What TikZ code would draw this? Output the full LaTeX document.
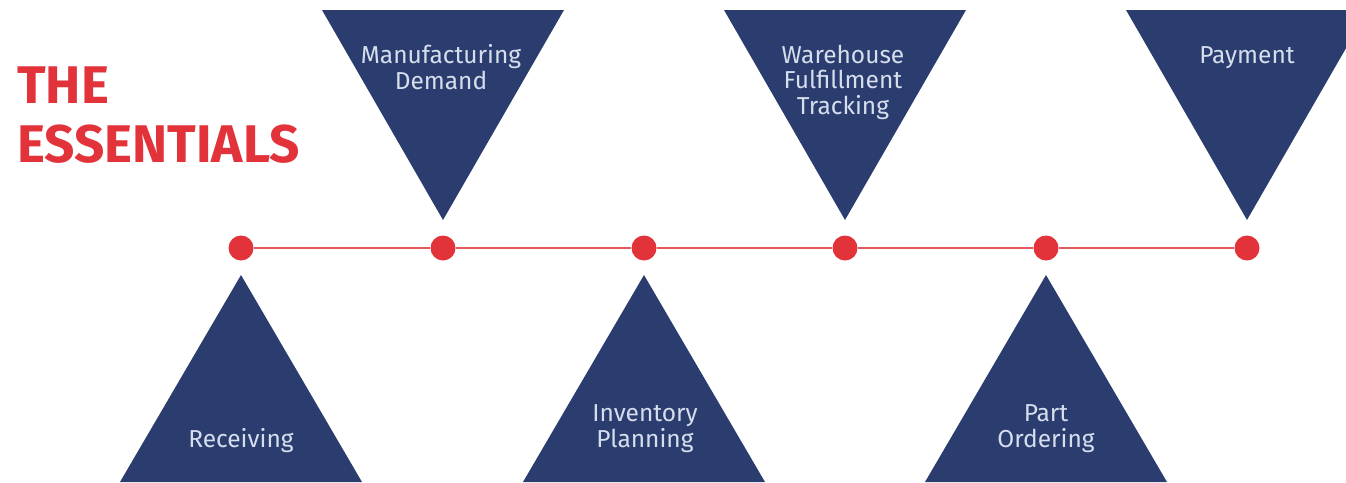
\documentclass[tikz,border=0pt]{standalone}
\usepackage{fontspec}
\setmainfont{Fira Sans}
\usetikzlibrary{positioning}

\definecolor{navy}{RGB}{43,61,110}
\definecolor{essred}{RGB}{226,50,58}
\definecolor{linered}{RGB}{228,88,96}
\definecolor{labelfg}{RGB}{214,222,238}

\tikzset{
  dot/.style={circle,fill=essred,inner sep=0,minimum size=25},
  tri/.style={fill=navy},
  tritext/.style={text=labelfg,font=\fontsize{24.5}{25.5}\selectfont,align=center,inner sep=0,anchor=base},
}

\begin{document}
\begin{tikzpicture}[x=1pt,y=-1pt]
        \useasboundingbox (0,0) rectangle (1346,482);

        % triangles above and below the line
        \foreach \x in {443,845,1247}
            \fill[tri] (\x-121,10) -- (\x+121,10) -- (\x,220) -- cycle;
        \foreach \x in {241,644,1046}
            \fill[tri] (\x,275) -- (\x+121,482) -- (\x-121,482) -- cycle;

        % the line with its dots
        \foreach \i/\x in {1/241,2/443,3/644,4/845,5/1046,6/1247}
            \node[dot] (d\i) at (\x,248) {};
        \foreach \i/\j in {1/2,2/3,3/4,4/5,5/6}
            \draw[linered,line width=2.5] (d\i) -- (d\j);

        \node[text=essred,font=\fontsize{53}{59}\selectfont\bfseries,align=left,anchor=base west,inner sep=0] (title) at (17,162) {THE\\ESSENTIALS};

        % base anchor sits on the last line
        \node[tritext] (manuf) at (441,89) {Manufacturing\\Demand};
        \node[tritext] (whouse) at (843,114) {Warehouse\\Fulfillment\\Tracking};
        \node[tritext] (pay) at (1247,63) {Payment};
        \node[tritext] (recv) at (241,447) {Receiving};
        \node[tritext] (invent) at (645,447) {Inventory\\Planning};
        \node[tritext] (part) at (1046,447) {Part\\Ordering};
    \end{tikzpicture}
\end{document}
